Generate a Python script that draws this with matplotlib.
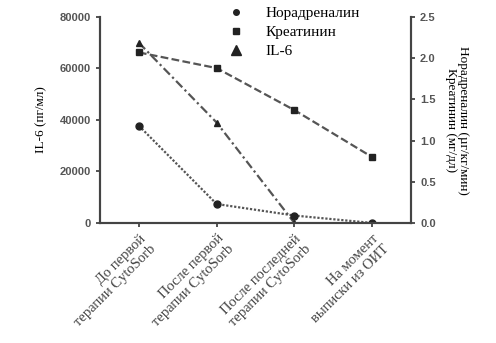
import matplotlib
matplotlib.use("Agg")
import matplotlib.pyplot as plt
from matplotlib.lines import Line2D

categories = ["До первой\nтерапии CytoSorb", "После первой\nтерапии CytoSorb",
              "После последней\nтерапии CytoSorb", "На момент\nвыписки из ОИТ"]
il6 = [70000, 39000, 0]
noradrenaline = [1.18, 0.23, 0.09, 0.0]
creatinine = [2.07, 1.88, 1.37, 0.80]

gray = "#555555"
mark = "#222222"
serif = "Liberation Serif"
sans = "Liberation Sans"

fig = plt.figure(figsize=(4.96, 3.43), dpi=100)
ax = fig.add_axes([0.2016, 0.35, 0.627, 0.6004])
ax2 = ax.twinx()

x = list(range(len(categories)))
ax.plot(x[:len(il6)], il6, color=gray, lw=1.6, ls=(0, (4, 1.5, 1, 1.5)),
        marker="^", ms=5, mfc=mark, mec=mark, zorder=3)
ax2.plot(x, noradrenaline, color=gray, lw=1.6, ls=(0, (1, 0.8)),
         marker="o", ms=5, mfc=mark, mec=mark)
ax2.plot(x, creatinine, color=gray, lw=1.6, ls=(0, (3.5, 1.5)),
         marker="s", ms=5, mfc=mark, mec=mark)

ax.set_xlim(-0.5, 3.5)
ax.set_ylim(0, 80000)
ax2.set_ylim(0, 2.5)
ax.set_yticks([0, 20000, 40000, 60000, 80000])
ax2.set_yticks([0, 0.5, 1.0, 1.5, 2.0, 2.5])
ax2.set_yticklabels(["0.0", "0.5", "1.0", "1.5", "2.0", "2.5"])
ax.set_xticks(x)
ax.set_xticklabels(categories, rotation=45, ha="right", rotation_mode="anchor",
                   fontsize=10.5, family=serif, color="#333333", linespacing=1.15)

for a in (ax, ax2):
    a.spines["top"].set_visible(False)
    for s in ("left", "right", "bottom"):
        a.spines[s].set_color("#444444")
        a.spines[s].set_linewidth(1.5)
    a.tick_params(colors="#444444", width=1.3, length=3)
for lab in ax.get_yticklabels() + ax2.get_yticklabels():
    lab.set_family(sans)
    lab.set_fontweight("bold")
    lab.set_fontsize(8)
    lab.set_color("#555555")

ax.set_ylabel("IL-6 (пг/мл)", family=serif, fontsize=9.5, labelpad=9)
ax2.set_ylabel("Норадреналин (µг/кг/мин)\nКреатинин (мг/дл)", family=serif,
               fontsize=9.5, rotation=270, labelpad=24, linespacing=1.0)

handles = [
    Line2D([], [], ls="none", marker="o", ms=4, color=mark),
    Line2D([], [], ls="none", marker="s", ms=4, color=mark),
    Line2D([], [], ls="none", marker="^", ms=7, color=mark),
]
ax.legend(handles, ["Норадреналин", "Креатинин", "IL-6"], loc="upper left",
          bbox_to_anchor=(0.37, 1.08), frameon=False, prop={"family": serif, "size": 11},
          handletextpad=0.9, labelspacing=0.35, borderaxespad=0)

fig.savefig("out.png", dpi=100)
